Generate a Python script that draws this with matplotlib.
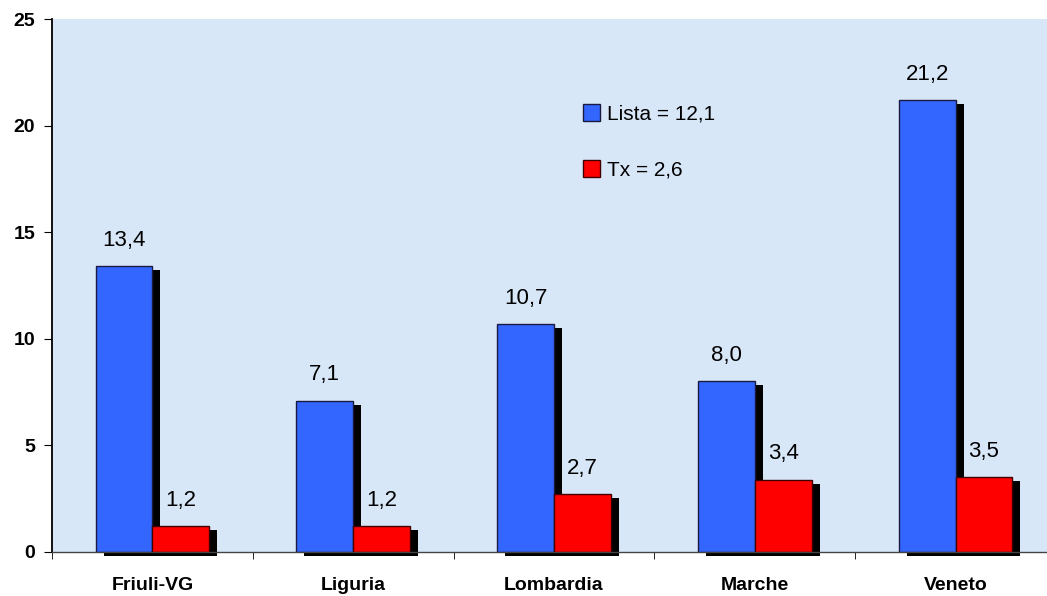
import numpy as np
import matplotlib.pyplot as plt
from matplotlib.ticker import FixedLocator

regioni = ['Friuli-VG', 'Liguria', 'Lombardia', 'Marche', 'Veneto']
lista = [13.4, 7.1, 10.7, 8.0, 21.2]
tx = [1.2, 1.2, 2.7, 3.4, 3.5]
legenda = ['Lista = 12,1', 'Tx = 2,6']

plt.rcParams['font.family'] = ['Liberation Sans', 'DejaVu Sans']

fig = plt.figure(figsize=(10.47, 5.96), dpi=100)
ax = fig.add_axes([52 / 1047, 44 / 596, 1004 / 1047, 533 / 596])
ax.set_facecolor('#d8e7f8')

x = np.arange(len(regioni))
w = 0.283
dx, dy = 0.04, 0.19

# ombre
ax.bar(x - w / 2 + dx, lista, w, bottom=-dy, color='black', zorder=1, clip_on=False)
ax.bar(x + w / 2 + dx, tx, w, bottom=-dy, color='black', zorder=1, clip_on=False)

b1 = ax.bar(x - w / 2, lista, w, color='#3366ff', edgecolor='#1a1a40', linewidth=1, zorder=2, label=legenda[0])
b2 = ax.bar(x + w / 2, tx, w, color='#ff0000', edgecolor='#400000', linewidth=1, zorder=2, label=legenda[1])

for xi, v in zip(x, lista):
    ax.annotate(f'{v:.1f}'.replace('.', ','), (xi - w / 2, v), xytext=(0, 11), textcoords='offset points',
                ha='center', va='bottom', fontsize=16)
for xi, v in zip(x, tx):
    ax.annotate(f'{v:.1f}'.replace('.', ','), (xi + w / 2, v), xytext=(0, 11), textcoords='offset points',
                ha='center', va='bottom', fontsize=16)

ax.set_xlim(-0.5, 4.5)
ax.set_ylim(0, 25)
ax.set_yticks([0, 5, 10, 15, 20, 25])
ax.set_xticks(x)
ax.set_xticklabels(regioni, fontsize=14, fontweight='bold')
ax.xaxis.set_minor_locator(FixedLocator(np.arange(-0.5, 5, 1)))
ax.tick_params(axis='x', which='major', length=0, pad=18)
ax.tick_params(axis='x', which='minor', length=5, direction='out')
ax.tick_params(axis='y', length=6, direction='out', labelsize=14, pad=6)
for t in ax.get_yticklabels():
    t.set_fontweight('bold')

ax.spines['top'].set_visible(False)
ax.spines['right'].set_visible(False)
ax.spines['left'].set_linewidth(1.3)
ax.spines['bottom'].set_linewidth(1.0)
ax.spines['bottom'].set_color('#444444')

ax.legend(handles=[b1, b2], loc='upper left', bbox_to_anchor=(0.51, 0.875), frameon=False,
          fontsize=15, labelspacing=1.75, handlelength=0.85, handleheight=0.85, handletextpad=0.3)

fig.savefig('out.png', dpi=100)
